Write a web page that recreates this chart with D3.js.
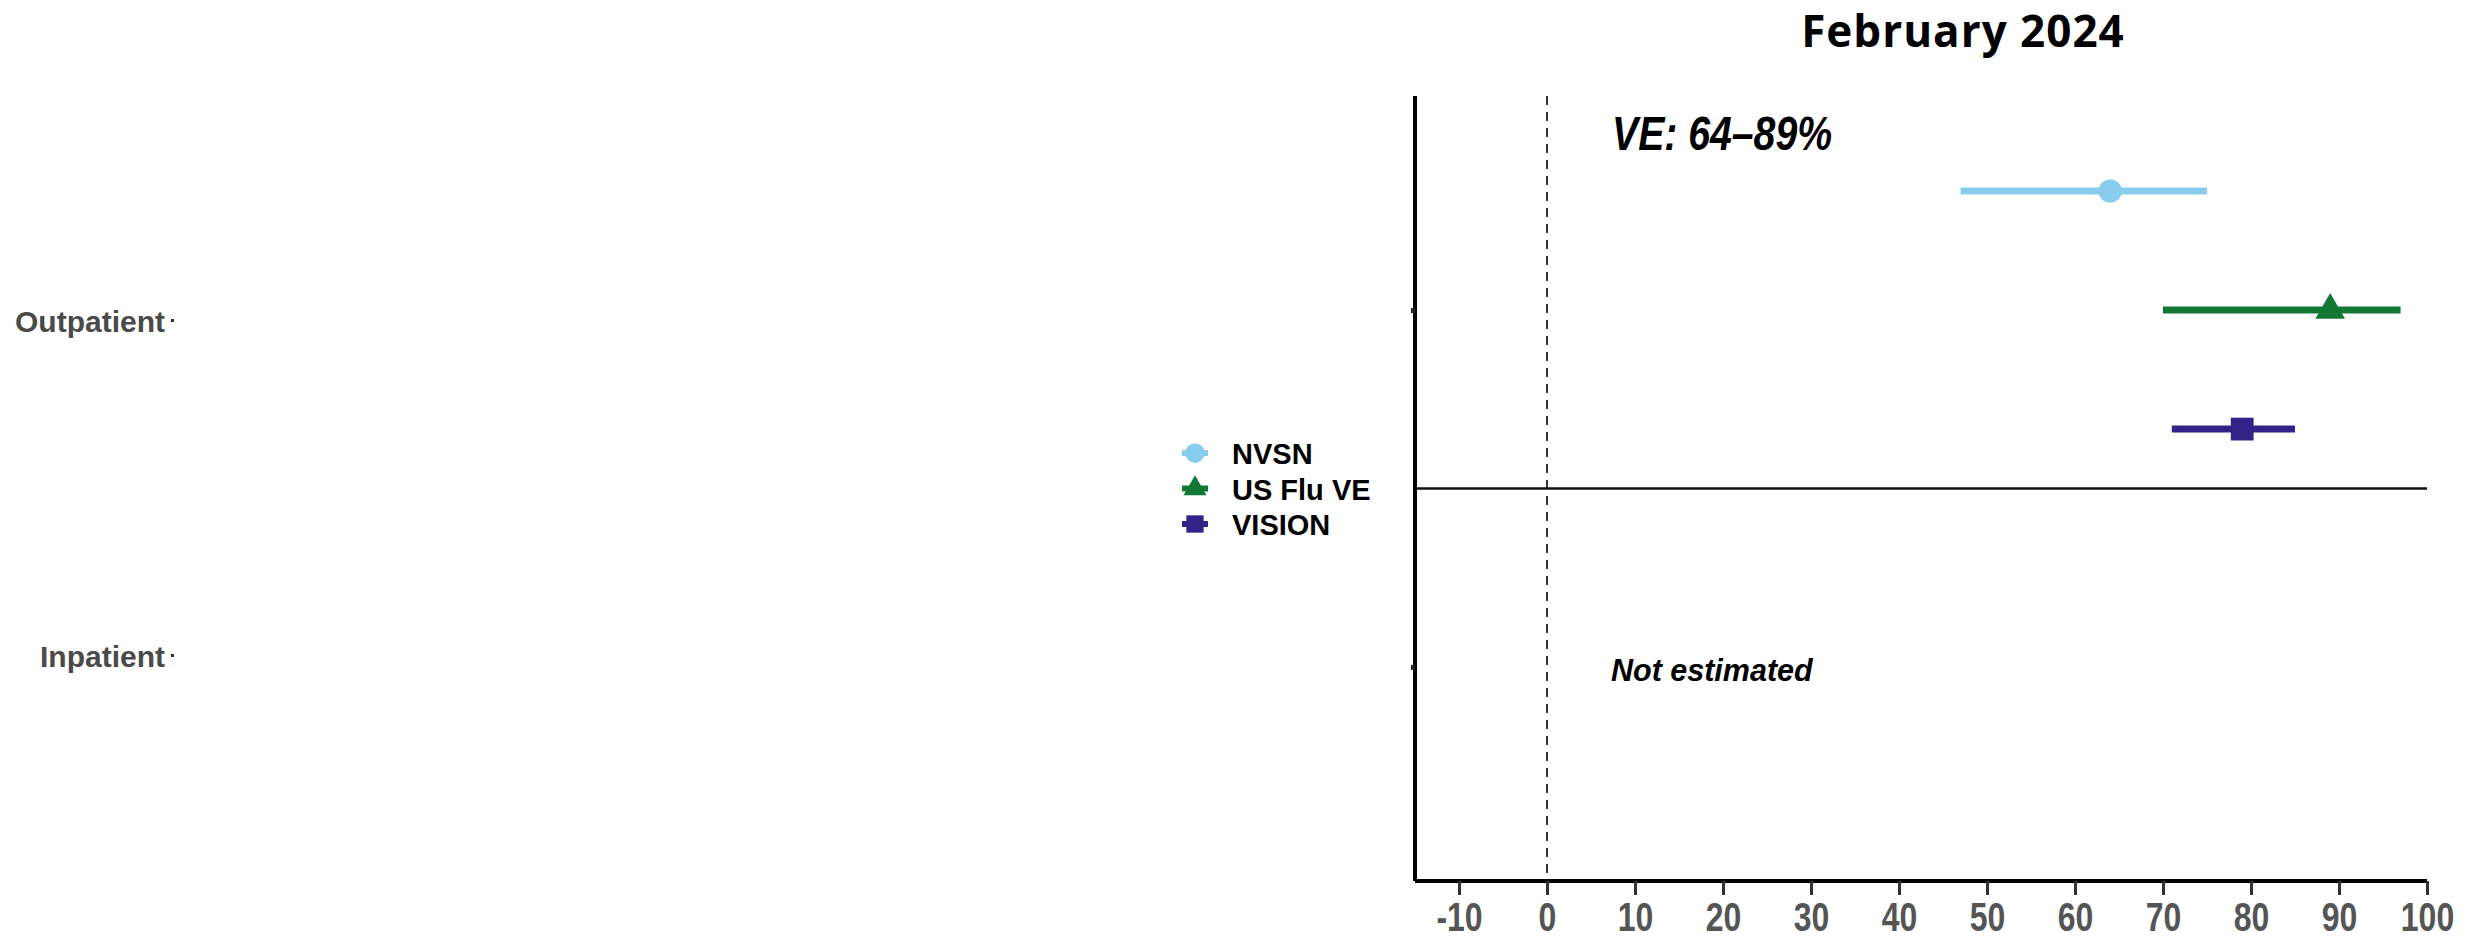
<!DOCTYPE html>
<html>
<head>
<meta charset="utf-8">
<script src="https://cdn.jsdelivr.net/npm/d3@7"></script>
<style>
  html, body { margin: 0; padding: 0; background: #ffffff; }
  svg { display: block; }
</style>
</head>
<body>
<svg id="chart" width="2479" height="940"></svg>
<script>
// Vaccine effectiveness estimates (%) with 95% confidence intervals
const categories = ["Outpatient", "Inpatient"];
const networks = ["NVSN", "US Flu VE", "VISION"];
const outpatientVE = [64, 89, 79];
const outpatientLower = [47, 70, 71];
const outpatientUpper = [75, 97, 85];
const networkColors = ["#88CCEE", "#117733", "#332288"];
const networkShapes = [d3.symbolCircle, d3.symbolTriangle, d3.symbolSquare];
const xTicks = [-10, 0, 10, 20, 30, 40, 50, 60, 70, 80, 90, 100];
const titleText = "February 2024";
const rangeLabel = "VE: 64\u201389%";
const inpatientNote = "Not estimated";

const svg = d3.select("#chart");

const plot = { left: 1415, right: 2427, top: 96, bottom: 881 };

const x = d3.scaleLinear().domain([-15, 100]).range([plot.left, plot.right]);
const y = d3.scalePoint().domain(categories).range([plot.top, plot.bottom]).padding(0.6);
const dodge = d3.scalePoint().domain(networks).range([-119, 119]);
const labelY = d3.scalePoint().domain(categories).range([322, 657]);

// Title
svg.append("text")
  .attr("x", 1963).attr("y", 47)
  .attr("text-anchor", "middle")
  .attr("font-family", "'Open Sans', sans-serif")
  .attr("font-weight", 700)
  .attr("font-size", 44)
  .attr("letter-spacing", 1)
  .attr("fill", "#000")
  .text(titleText);

// Reference line at zero
svg.append("line")
  .attr("x1", x(0)).attr("x2", x(0))
  .attr("y1", plot.top).attr("y2", plot.bottom)
  .attr("stroke", "#333").attr("stroke-width", 2)
  .attr("stroke-dasharray", "9,7");

// Divider between settings
svg.append("line")
  .attr("x1", plot.left).attr("x2", plot.right)
  .attr("y1", (y(categories[0]) + y(categories[1])) / 2)
  .attr("y2", (y(categories[0]) + y(categories[1])) / 2)
  .attr("stroke", "#111").attr("stroke-width", 2.5);

// X axis
const xAxis = svg.append("g")
  .attr("transform", `translate(0,${plot.bottom})`)
  .call(d3.axisBottom(x).tickValues(xTicks).tickSize(14).tickFormat(d => String(d)));
xAxis.select(".domain").attr("stroke", "#000").attr("stroke-width", 4)
  .attr("d", `M${plot.left},0H${plot.right}`);
xAxis.selectAll(".tick line").attr("stroke", "#333").attr("stroke-width", 3);
xAxis.selectAll(".tick text")
  .attr("y", 0).attr("dy", null)
  .attr("transform", "translate(0,50) scale(0.8,1)")
  .attr("font-family", "'Liberation Sans', Arial, sans-serif")
  .attr("font-weight", 700)
  .attr("font-size", 40)
  .attr("fill", "#555");

// Y axis line with small ticks
const yAxis = svg.append("g")
  .attr("transform", `translate(${plot.left},0)`)
  .call(d3.axisLeft(y).tickSize(4).tickFormat(""));
yAxis.select(".domain").attr("stroke", "#000").attr("stroke-width", 4)
  .attr("d", `M0,${plot.top}V${plot.bottom}`);
yAxis.selectAll(".tick line").attr("stroke", "#222").attr("stroke-width", 5);

// Setting labels on the far left
const catLabels = svg.append("g").selectAll("g")
  .data(categories).join("g")
  .attr("transform", d => `translate(0,${labelY(d)})`);
catLabels.append("text")
  .attr("x", 165).attr("y", 10)
  .attr("text-anchor", "end")
  .attr("font-family", "'Liberation Sans', Arial, sans-serif")
  .attr("font-weight", 700)
  .attr("font-size", 30)
  .attr("fill", "#4a4a4a")
  .text(d => d);
catLabels.append("rect")
  .attr("x", 171).attr("y", -3).attr("width", 3).attr("height", 3)
  .attr("fill", "#333");

// Range annotation
svg.append("text")
  .attr("transform", `translate(1612,150) scale(0.8,1)`)
  .attr("font-family", "'Liberation Sans', Arial, sans-serif")
  .attr("font-weight", 700)
  .attr("font-style", "italic")
  .attr("font-size", 49)
  .attr("fill", "#000")
  .text(rangeLabel);

// Inpatient note
svg.append("text")
  .attr("x", 1611).attr("y", 681)
  .attr("font-family", "'Liberation Sans', Arial, sans-serif")
  .attr("font-weight", 700)
  .attr("font-style", "italic")
  .attr("font-size", 30.5)
  .attr("fill", "#000")
  .text(inpatientNote);

// Outpatient estimates
const rows = networks.map((n, i) => ({
  network: n, ve: outpatientVE[i], lo: outpatientLower[i], hi: outpatientUpper[i],
  color: networkColors[i], shape: networkShapes[i]
}));
const symbolSizes = { "NVSN": 430, "US Flu VE": 380, "VISION": 520 };

const est = svg.append("g").selectAll("g")
  .data(rows).join("g")
  .attr("transform", d => `translate(0,${y("Outpatient") + dodge(d.network)})`);
est.append("line")
  .attr("x1", d => x(d.lo)).attr("x2", d => x(d.hi))
  .attr("y1", 0).attr("y2", 0)
  .attr("stroke", d => d.color).attr("stroke-width", 7);
est.append("path")
  .attr("transform", d => `translate(${x(d.ve)},0)`)
  .attr("d", d => d3.symbol(d.shape, symbolSizes[d.network])())
  .attr("fill", d => d.color);

// Legend
const legend = svg.append("g").selectAll("g")
  .data(rows).join("g")
  .attr("transform", (d, i) => `translate(1195,${453 + i * 35.5})`);
legend.append("line")
  .attr("x1", -13).attr("x2", 13).attr("y1", 0).attr("y2", 0)
  .attr("stroke", d => d.color).attr("stroke-width", 6);
legend.append("path")
  .attr("d", d => d3.symbol(d.shape, d.network === "US Flu VE" ? 230 : 300)())
  .attr("fill", d => d.color);
legend.append("text")
  .attr("x", 37).attr("y", 11)
  .attr("font-family", "'Liberation Sans', Arial, sans-serif")
  .attr("font-weight", 700)
  .attr("font-size", 29)
  .attr("fill", "#000")
  .text(d => d.network);
</script>
</body>
</html>
